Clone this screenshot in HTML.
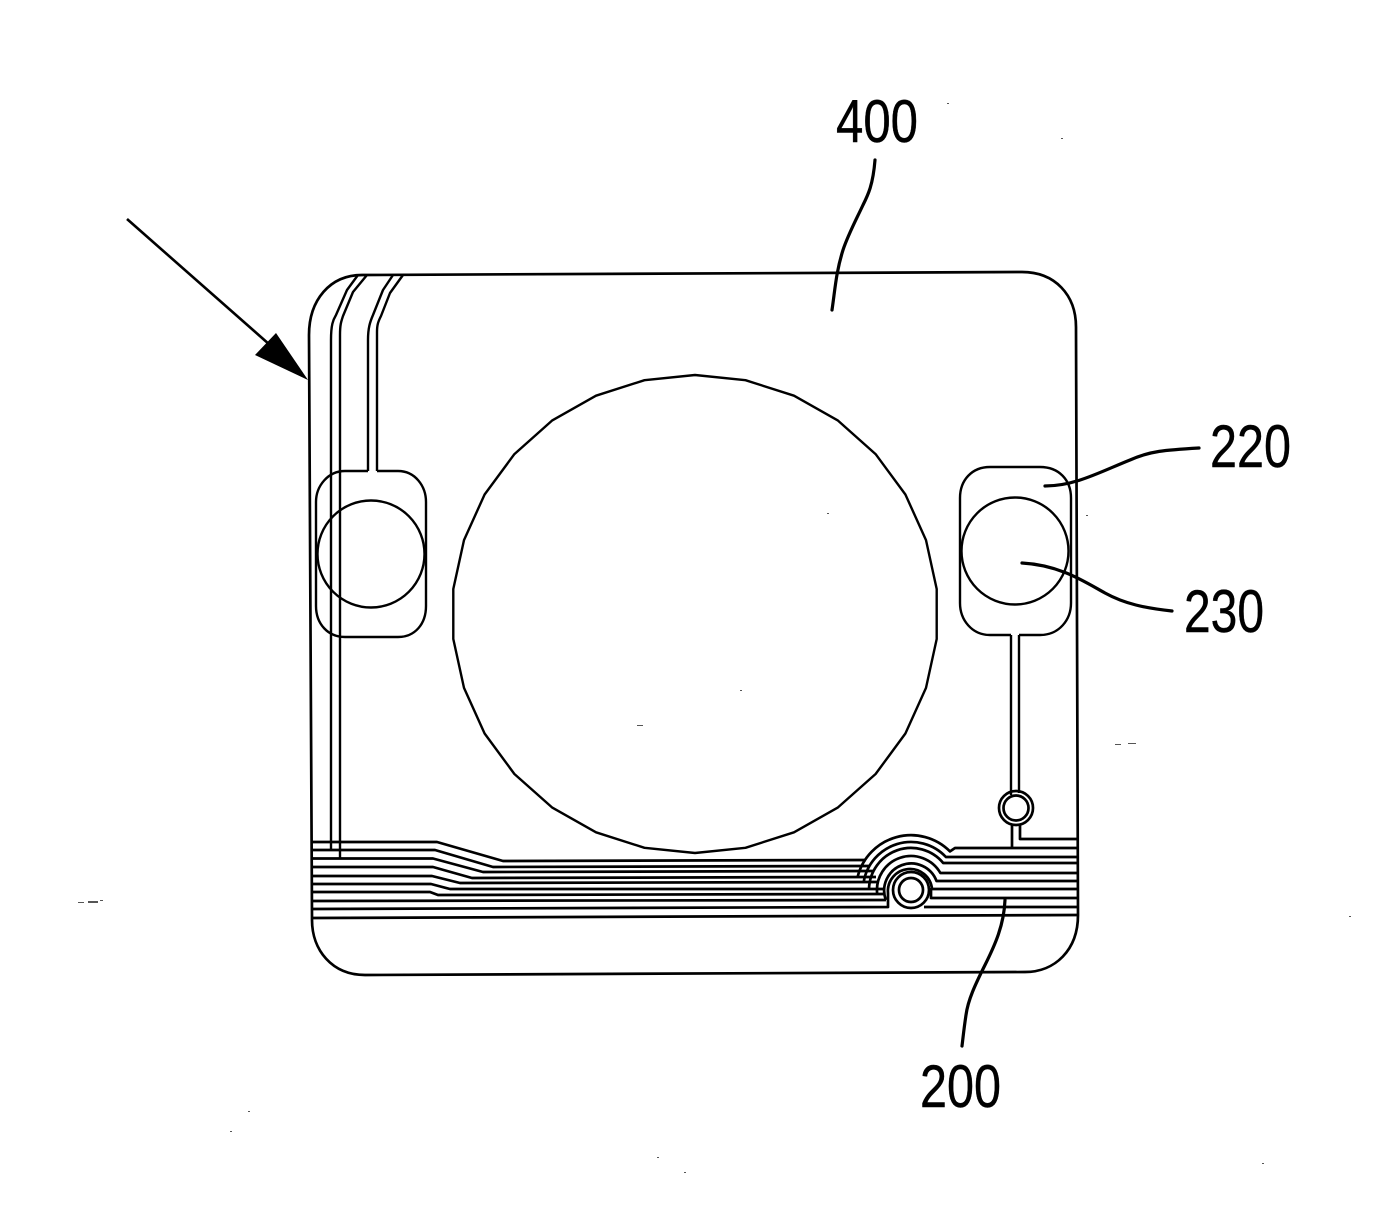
<!DOCTYPE html>
<html lang="en">
<head>
<meta charset="utf-8">
<title>Patent diagram</title>
<style>
html,body{margin:0;padding:0;background:#fff}
svg{display:block}
text{font-family:"Liberation Sans",sans-serif;font-size:60px;fill:#000;stroke:#000;stroke-width:.4}
.l{fill:none;stroke:#000;stroke-width:2.4;stroke-linejoin:round}
.b{fill:none;stroke:#000;stroke-width:2.7;stroke-linejoin:round}
.d{fill:none;stroke:#000;stroke-width:3.2;stroke-linecap:round}
</style>
</head>
<body>
<svg xmlns="http://www.w3.org/2000/svg" width="1388" height="1226" viewBox="0 0 1388 1226">
<rect width="1388" height="1226" fill="#fff"/>

<!-- outer frame -->
<path class="b" d="M312,918 L309,335 C309,300 330,275 362,275 L1022,272 C1055,272 1076,295 1076,327 L1078,915 C1078,950 1055,972 1025,972 L365,975 C332,975 312,950 312,920 Z"/>

<!-- central circle -->
<polygon class="l" points="695,375 745.5,380.2 794,395.7 838,420.6 875.6,454.1 905.4,494.5 926,540.1 936.7,589 936.7,639 926,687.9 905.4,733.5 875.6,774 838,807.4 794,832.3 745.5,847.8 695,853 644.5,847.8 596,832.3 552,807.4 514.4,774 484.6,733.5 464,687.9 453.3,639 453.3,589 464,540.1 484.6,494.5 514.4,454.1 552,420.6 596,395.7 644.5,380.2"/>

<!-- top-left traces -->
<path class="l" d="M331,850 V340 C331,325 333,320 336,315 L347,290 L358,275"/>
<path class="l" d="M340,858 V335 C340,325 341,322 343,316 L353,292 L367,275"/>
<path class="l" d="M368,471 V340 C368,328 370,322 373,315 L383,290 L393,275"/>
<path class="l" d="M377,471 V332 C377,325 378,322 381,316 L390,293 L403,275"/>

<!-- left pad -->
<path class="l" d="M368,471 H345 C328,471 316,486 316,502 V606 C316,624 328,637 345,637 H398 C415,637 426,624 426,606 V502 C426,486 415,471 398,471 H377"/>
<circle class="l" cx="371" cy="554" r="53.5"/>

<!-- right pad -->
<path class="l" d="M1011,635 H990 C972,635 960,620 960,603 V498 C960,480 972,467 990,467 H1040 C1059,467 1071,480 1071,498 V603 C1071,620 1059,635 1040,635 H1019"/>
<circle class="l" cx="1015" cy="551" r="53.5"/>
<path class="l" d="M1011,635 V795"/>
<path class="l" d="M1019,635 V793"/>

<!-- small via -->
<circle class="b" cx="1016" cy="808" r="17"/>
<circle class="b" cx="1016" cy="808" r="12.5"/>
<path class="b" d="M1012,825 V848"/>
<path class="b" d="M1020,825 V839 H1078"/>

<!-- bus lines left -->
<path class="b" d="M312,842 H437 L503,861 L866,860"/>
<path class="b" d="M312,850 H435 L493,867 L869,866"/>
<path class="b" d="M312,858.5 H433 L483,872 L873,871"/>
<path class="b" d="M312,867 H433 L472,878 L876,877"/>
<path class="b" d="M312,876 H432 L460,883 L879,882"/>
<path class="b" d="M312,884 H431 L450,889 L883,889"/>
<path class="b" d="M312,892 H430 L438,895 L885,894"/>
<path class="b" d="M312,901 L886,900"/>
<path class="b" d="M312,909 L888,907 V893 A21,21 0 0 1 932,889 H1078"/>
<path class="b" d="M312,918 L1078,915"/>

<!-- arcs around via -->
<path class="b" d="M857.6,877 A55,55 0 0 1 950,851.4 L955,848 H1078"/>
<path class="b" d="M863.7,882 A48,48 0 0 1 945.9,857 H1078"/>
<path class="b" d="M869,889 A42,42 0 0 1 943.2,863 H1078"/>
<path class="b" d="M877.2,894 A34,34 0 0 1 940.4,873 H1078"/>
<path class="b" d="M885.9,900 A27,27 0 0 1 936.5,881 H1078"/>
<path class="b" d="M931,888 V898 H1078"/>
<path class="b" d="M924,907 H1078"/>

<!-- large via -->
<circle cx="911" cy="890" r="18" fill="#fff" stroke="#000" stroke-width="2.7"/>
<circle class="b" cx="911" cy="890" r="12"/>

<!-- arrow -->
<path d="M127,219 L270,345" fill="none" stroke="#000" stroke-width="2.6"/>
<polygon points="276,333 255,355 308,380" fill="#000"/>

<!-- leader lines -->
<path class="d" d="M875,160 C873,185 868,195 863,205 C855,222 848,235 843,250 C836,272 835,290 832,310"/>
<path class="d" d="M1199,448 C1165,450 1150,451 1130,460 C1100,472 1075,486 1045,486"/>
<path class="d" d="M1172,611 C1145,608 1125,604 1105,593 C1085,582 1060,565 1022,563"/>
<path class="d" d="M1005,900 C1004,925 995,945 985,965 C975,985 968,1000 966,1015 C964,1028 963,1038 962,1046"/>

<!-- labels -->
<text x="836" y="142" textLength="82" lengthAdjust="spacingAndGlyphs">400</text>
<text x="1210" y="467" textLength="81" lengthAdjust="spacingAndGlyphs">220</text>
<text x="1184" y="632" textLength="80" lengthAdjust="spacingAndGlyphs">230</text>
<text x="920" y="1107" textLength="81" lengthAdjust="spacingAndGlyphs">200</text>

<!-- specks -->
<g fill="#555">
<rect x="78" y="902" width="6" height="1"/><rect x="88" y="901" width="10" height="2"/><rect x="100" y="900" width="3" height="1"/>
<rect x="637" y="725" width="6" height="1"/><rect x="1115" y="744" width="6" height="1"/><rect x="1128" y="743" width="8" height="1"/>
<rect x="1061" y="138" width="2" height="1"/><rect x="947" y="103" width="2" height="1"/><rect x="1349" y="916" width="2" height="1"/>
<rect x="248" y="1111" width="2" height="1"/><rect x="657" y="1157" width="2" height="1"/><rect x="1262" y="1163" width="2" height="1"/>
<rect x="684" y="1172" width="2" height="1"/><rect x="230" y="1131" width="2" height="1"/><rect x="827" y="513" width="2" height="1"/>
<rect x="740" y="690" width="2" height="1"/><rect x="1086" y="515" width="2" height="1"/>
</g>
</svg>
</body>
</html>
